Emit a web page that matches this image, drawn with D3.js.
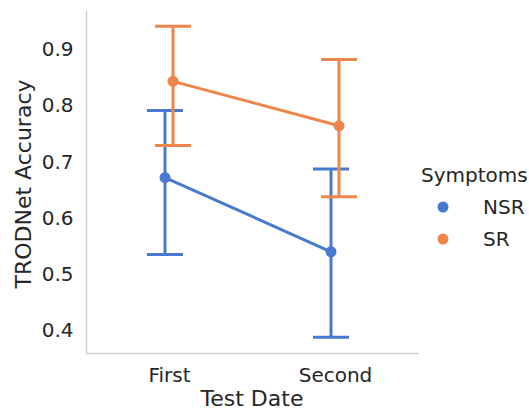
<!DOCTYPE html>
<meta charset="utf-8">
<style>
body { margin: 0; background: #fff; }
text { font-family: "DejaVu Sans", sans-serif; fill: #262626; }
.axis .domain { stroke: #cccccc; stroke-width: 1.3; }
.axis text { font-size: 20px; }
</style>
<body>
<svg width="529" height="412"></svg>
<script src="https://d3js.org/d3.v7.min.js"></script>
<script>
var dates = ["First", "Second"];
var groups = ["NSR", "SR"];
var colors = ["#4878d0", "#ee854a"];
var yTicks = [0.4, 0.5, 0.6, 0.7, 0.8, 0.9];

// point estimates and 95% CI bounds, per group, per test date
var nsrMean = [0.672, 0.540];
var nsrLow  = [0.535, 0.388];
var nsrHigh = [0.791, 0.687];
var srMean  = [0.843, 0.764];
var srLow   = [0.729, 0.638];
var srHigh  = [0.941, 0.882];

var series = [
  {name: "NSR", mean: nsrMean, low: nsrLow, high: nsrHigh},
  {name: "SR",  mean: srMean,  low: srLow,  high: srHigh}
];

var svg = d3.select("svg");

var x = d3.scalePoint().domain(dates).range([86, 418]).padding(0.5);
var y = d3.scaleLinear().domain([0.4, 0.9]).range([330.5, 49.3]);
var yAxisScale = y.copy().domain([y.invert(353), y.invert(10)]).range([353, 10]);

var color = d3.scaleOrdinal().domain(groups).range(colors);
var dodge = d3.scalePoint().domain(groups).range([-4, 4]);

svg.append("g")
    .attr("class", "axis")
    .attr("transform", "translate(86,0)")
    .call(d3.axisLeft(yAxisScale).tickValues(yTicks).tickSize(0).tickPadding(12.5)
      .tickFormat(d3.format(".1f")));

svg.append("g")
    .attr("class", "axis")
    .attr("transform", "translate(0,353)")
    .call(d3.axisBottom(x).tickSize(0).tickPadding(14.8));

svg.append("text")
    .attr("transform", "translate(31,184) rotate(-90)")
    .attr("text-anchor", "middle")
    .style("font-size", "22px")
    .text("TRODNet Accuracy");

svg.append("text")
    .attr("x", 252)
    .attr("y", 406)
    .attr("text-anchor", "middle")
    .style("font-size", "22px")
    .text("Test Date");

var g = svg.selectAll(".series")
    .data(series)
    .enter().append("g")
    .attr("class", "series")
    .attr("stroke", function(d) { return color(d.name); })
    .attr("fill", function(d) { return color(d.name); });

g.each(function(s) {
  var sel = d3.select(this);
  var px = function(i) { return x(dates[i]) + dodge(s.name); };
  var idx = d3.range(dates.length);

  idx.forEach(function(i) {
    sel.append("line")
        .attr("x1", px(i)).attr("x2", px(i))
        .attr("y1", y(s.low[i])).attr("y2", y(s.high[i]))
        .attr("stroke-width", 3);
    [s.low[i], s.high[i]].forEach(function(v) {
      sel.append("line")
          .attr("x1", px(i) - 18).attr("x2", px(i) + 18)
          .attr("y1", y(v)).attr("y2", y(v))
          .attr("stroke-width", 3);
    });
  });

  sel.append("path")
      .datum(idx)
      .attr("fill", "none")
      .attr("stroke-width", 3)
      .attr("d", d3.line().x(function(i) { return px(i); }).y(function(i) { return y(s.mean[i]); }));

  sel.selectAll("circle")
      .data(idx)
      .enter().append("circle")
      .attr("stroke", "none")
      .attr("cx", function(i) { return px(i); })
      .attr("cy", function(i) { return y(s.mean[i]); })
      .attr("r", 5.5);
});

// legend
var legend = svg.append("g").attr("transform", "translate(421,0)");
legend.append("text")
    .attr("x", 0).attr("y", 182)
    .style("font-size", "20px")
    .text("Symptoms");

var items = legend.selectAll(".item")
    .data(groups)
    .enter().append("g")
    .attr("transform", function(d, i) { return "translate(0," + (207 + i * 32) + ")"; });

items.append("circle")
    .attr("cx", 22).attr("cy", 0).attr("r", 5.5)
    .attr("fill", function(d) { return color(d); });

items.append("text")
    .attr("x", 62).attr("y", 7)
    .style("font-size", "20px")
    .text(function(d) { return d; });
</script>
</body>
